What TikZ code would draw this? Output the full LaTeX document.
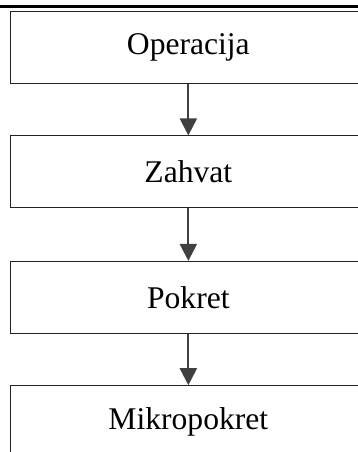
\documentclass[tikz,border=0pt]{standalone}
\usepackage{fontspec}
\setmainfont{Liberation Serif}
\usetikzlibrary{arrows.meta}
\definecolor{arrowgray}{HTML}{404040}
\definecolor{boxline}{HTML}{222222}
\begin{document}
\begin{tikzpicture}[x=1pt,y=-1pt,
  stepbox/.style={draw=boxline, line width=1pt, rectangle, minimum width=355.3pt, minimum height=72pt, inner sep=0pt, font=\fontsize{31.6}{38}\selectfont},
  flowarrow/.style={draw=arrowgray, line width=2.2pt, -{Triangle[width=17pt,length=17pt]}, shorten >=0pt}
]
\useasboundingbox (0,0) rectangle (358,452);
\clip (0,0) rectangle (358,452);
\draw[line width=2.4pt, black] (0,6.5) coordinate (tl) -- (358,6.5) coordinate (tr);
\node[stepbox] (op) at (188.35,47.5) {Operacija};
\node[stepbox] (za) at (188.35,171.9) {Zahvat};
\node[stepbox] (po) at (188.35,297.4) {Pokret};
\node[stepbox] (mi) at (188.35,421.7) {Mikropokret};
\draw[flowarrow] (op.south) -- (za.north);
\draw[flowarrow] (za.south) -- (po.north);
\draw[flowarrow] (po.south) -- (mi.north);
\end{tikzpicture}
\end{document}
